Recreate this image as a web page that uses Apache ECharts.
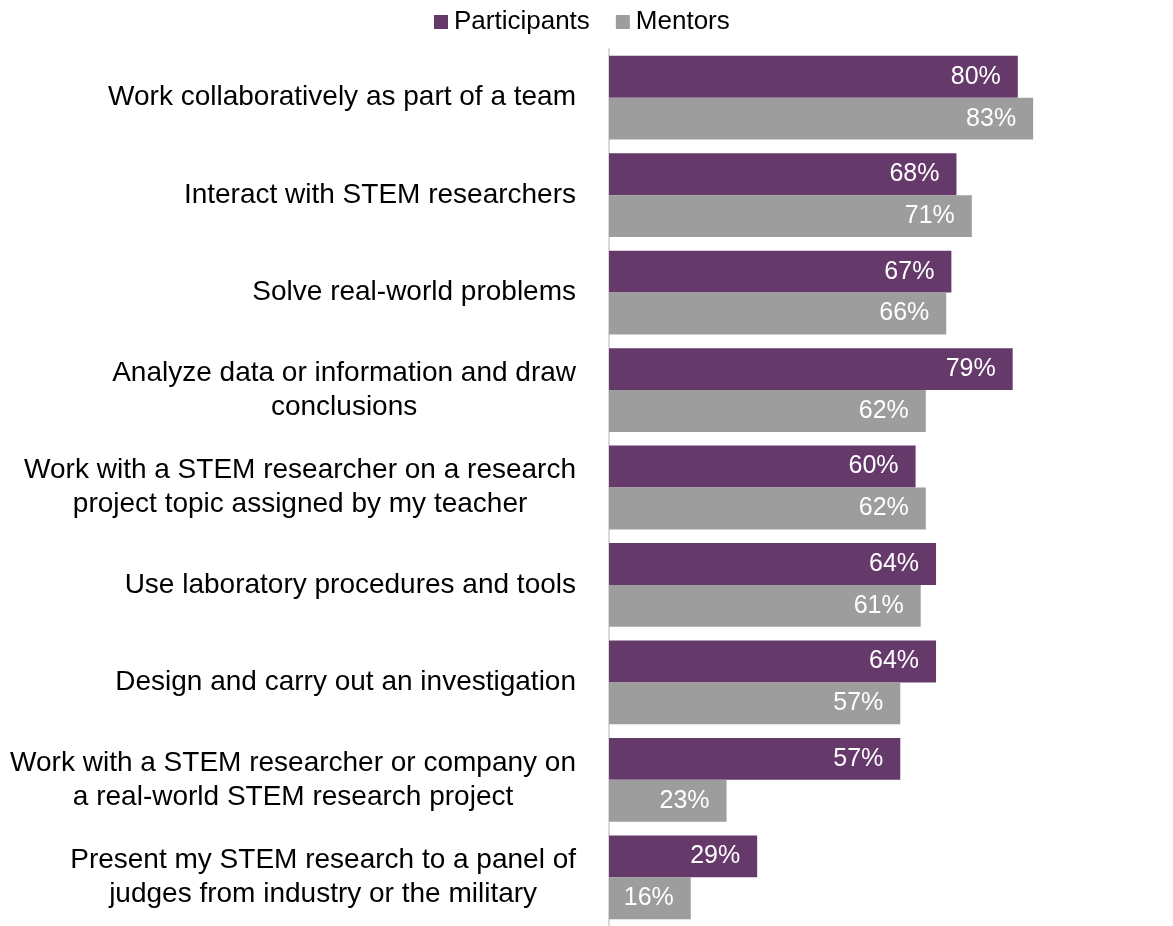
<!DOCTYPE html>
<html>
<head>
<meta charset="utf-8">
<script src="https://cdn.jsdelivr.net/npm/echarts@6/dist/echarts.min.js"></script>
<style>
  html, body { margin: 0; padding: 0; background: #fff; }
  #chart { width: 1173px; height: 926px; }
</style>
</head>
<body>
<div id="chart"></div>
<script>
// Skills reported by participants and mentors (percent)
const categories = [
  'Work collaboratively as part of a team',
  'Interact with STEM researchers',
  'Solve real-world problems',
  'Analyze data or information and draw\nconclusions',
  'Work with a STEM researcher on a research\nproject topic assigned by my teacher',
  'Use laboratory procedures and tools',
  'Design and carry out an investigation',
  'Work with a STEM researcher or company on\na real-world STEM research project',
  'Present my STEM research to a panel of\njudges from industry or the military'
];
const participants = [80, 68, 67, 79, 60, 64, 64, 57, 29];
const mentors = [83, 71, 66, 62, 62, 61, 57, 23, 16];

const FONT = '"Liberation Sans", Arial, sans-serif';

const chart = echarts.init(document.getElementById('chart'));

const valueLabel = {
  show: true,
  position: 'insideRight',
  distance: 17,
  color: '#ffffff',
  fontFamily: FONT,
  fontSize: 25,
  formatter: p => p.value + '%'
};

chart.setOption({
  animation: false,
  textStyle: { fontFamily: FONT },
  legend: {
    top: 4,
    left: 429,
    icon: 'rect',
    itemWidth: 14,
    itemHeight: 14,
    itemGap: 26,
    textStyle: { fontFamily: FONT, fontSize: 26, color: '#000', padding: [0, 0, 0, 1] },
    data: ['Participants', 'Mentors']
  },
  grid: { left: 609, top: 49, width: 511, height: 879, containLabel: false },
  xAxis: {
    type: 'value',
    min: 0,
    max: 100,
    show: false
  },
  yAxis: {
    type: 'category',
    inverse: true,
    data: categories,
    axisLine: { show: true, lineStyle: { color: '#d9d9d9', width: 2 } },
    axisTick: { show: false },
    axisLabel: {
      margin: 33,
      align: 'right',
      formatter: v => v.split('\n').map(s => '{c|' + s + '}').join('\n'),
      rich: {
        c: { align: 'center', fontFamily: FONT, fontSize: 28, lineHeight: 34, color: '#000' }
      }
    }
  },
  series: [
    {
      name: 'Participants',
      type: 'bar',
      data: participants,
      barGap: '0%',
      barCategoryGap: '14%',
      itemStyle: { color: '#66396b' },
      label: valueLabel
    },
    {
      name: 'Mentors',
      type: 'bar',
      data: mentors,
      barGap: '0%',
      barCategoryGap: '14%',
      itemStyle: { color: '#9d9d9d' },
      label: valueLabel
    }
  ]
});
</script>
</body>
</html>
